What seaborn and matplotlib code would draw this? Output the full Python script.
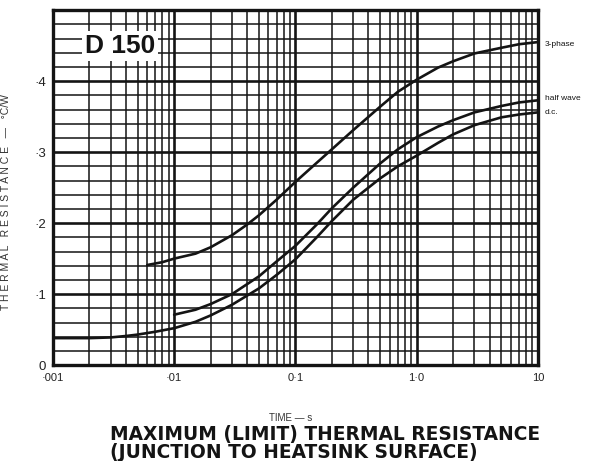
import matplotlib
matplotlib.use("Agg")
import matplotlib.pyplot as plt
from matplotlib.ticker import MultipleLocator, LogLocator, NullFormatter
import pandas as pd
import seaborn as sns

# values (time in s, resistance in degC/W)
three_phase_t = [0.006, 0.008, 0.01, 0.015, 0.02, 0.03, 0.04, 0.05, 0.07, 0.1, 0.15, 0.2,
                 0.3, 0.5, 0.7, 1.0, 1.5, 2.0, 3.0, 5.0, 7.0, 10]
three_phase_r = [0.141, 0.145, 0.150, 0.157, 0.166, 0.183, 0.198, 0.211, 0.233, 0.258, 0.285, 0.304,
                 0.331, 0.364, 0.385, 0.402, 0.419, 0.428, 0.439, 0.447, 0.452, 0.455]

half_wave_t = [0.01, 0.015, 0.02, 0.03, 0.05, 0.07, 0.1, 0.15, 0.2, 0.3, 0.5, 0.7,
               1.0, 1.5, 2.0, 3.0, 5.0, 7.0, 10]
half_wave_r = [0.071, 0.078, 0.086, 0.100, 0.125, 0.146, 0.168, 0.198, 0.221, 0.250, 0.284, 0.304,
               0.321, 0.336, 0.345, 0.356, 0.365, 0.370, 0.373]

dc_t = [0.001, 0.002, 0.003, 0.004, 0.005, 0.007, 0.01, 0.015, 0.02, 0.03, 0.05, 0.07, 0.1,
        0.15, 0.2, 0.3, 0.5, 0.7, 1.0, 1.5, 2.0, 3.0, 5.0, 7.0, 10]
dc_r = [0.038, 0.038, 0.039, 0.041, 0.043, 0.047, 0.052, 0.061, 0.070, 0.085, 0.108, 0.127, 0.149,
        0.180, 0.203, 0.233, 0.263, 0.280, 0.295, 0.313, 0.325, 0.338, 0.349, 0.353, 0.356]

curve_names = ["3-phase", "half wave", "d.c."]

x_ticks = [0.001, 0.01, 0.1, 1.0, 10]
x_tick_labels = ["\u00b7001", "\u00b701", "0\u00b71", "1\u00b70", "10"]
y_ticks = [0, 0.1, 0.2, 0.3, 0.4]
y_tick_labels = ["0", "\u00b71", "\u00b72", "\u00b73", "\u00b74"]

df = pd.concat([
    pd.DataFrame({"t": three_phase_t, "r": three_phase_r, "curve": curve_names[0]}),
    pd.DataFrame({"t": half_wave_t, "r": half_wave_r, "curve": curve_names[1]}),
    pd.DataFrame({"t": dc_t, "r": dc_r, "curve": curve_names[2]}),
])

sns.set_style("white")
plt.rcParams["font.family"] = ["Liberation Sans", "DejaVu Sans"]

ink = "#141414"

fig = plt.figure(figsize=(6.01, 4.61), dpi=100)
ax = fig.add_axes([0.088, 0.208, 0.807, 0.770])

sns.lineplot(data=df, x="t", y="r", hue="curve", units="curve", estimator=None,
             palette=[ink] * 3, linewidth=1.9, legend=False, ax=ax, sort=True)

ax.set_xscale("log")
ax.set_xlim(0.001, 10)
ax.set_ylim(0, 0.5)

ax.xaxis.set_minor_locator(LogLocator(base=10, subs=range(2, 10), numticks=20))
ax.xaxis.set_minor_formatter(NullFormatter())
ax.yaxis.set_minor_locator(MultipleLocator(0.02))
ax.set_xticks(x_ticks, labels=x_tick_labels)
ax.set_yticks(y_ticks, labels=y_tick_labels)

ax.grid(which="major", color=ink, linewidth=1.9)
ax.grid(which="minor", color=ink, linewidth=1.1)
ax.tick_params(axis="x", which="both", length=0, labelsize=8, colors="#222222", pad=6)
ax.tick_params(axis="y", which="both", length=0, labelsize=9.5, colors="#222222", pad=5)
for s in ax.spines.values():
    s.set_linewidth(2.4)
    s.set_color(ink)

ax.set_xlabel("TIME \u2014 s", fontsize=7, color="#333333")
ax.xaxis.set_label_coords(0.49, -0.135)
ax.set_ylabel("T H E R M A L   R E S I S T A N C E   \u2014   \u00b0C/W", fontsize=7.5, color="#333333")
ax.yaxis.set_label_coords(-0.087, 0.46)

# curve labels at the right-hand end
for name, lr in [(curve_names[0], 0.452), (curve_names[1], 0.376), (curve_names[2], 0.356)]:
    ax.annotate(name, xy=(10, lr), xytext=(5, 0), textcoords="offset points",
                fontsize=6, va="center", ha="left", color=ink, annotation_clip=False)

ax.text(0.138, 0.899, "D 150", transform=ax.transAxes, fontsize=19, fontweight="bold",
        ha="center", va="center", color=ink,
        bbox=dict(facecolor="white", edgecolor="none", pad=2))

for yy, line in [(0.057, "MAXIMUM (LIMIT) THERMAL RESISTANCE"),
                 (0.018, "(JUNCTION TO HEATSINK SURFACE)")]:
    fig.text(0.183, yy, line, fontsize=13.4, fontweight="bold", family="DejaVu Sans",
             ha="left", va="center", color=ink)

fig.savefig("out.png", dpi=100, facecolor="white")
